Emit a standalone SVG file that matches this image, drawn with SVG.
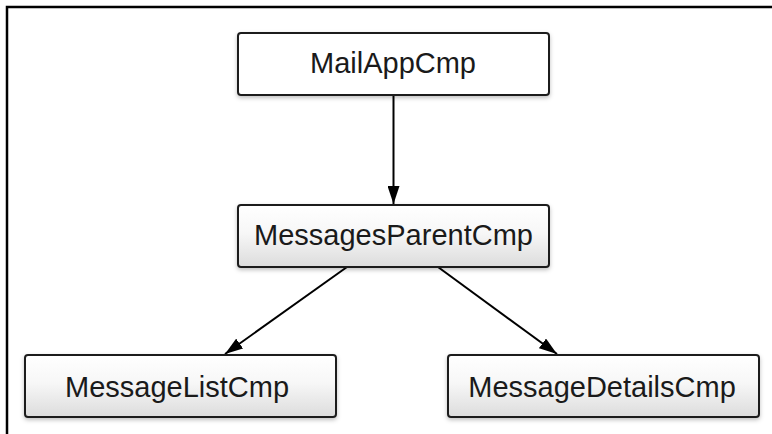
<svg xmlns="http://www.w3.org/2000/svg" width="772" height="434" viewBox="0 0 772 434">
  <defs>
    <linearGradient id="grad" x1="0" y1="0" x2="0" y2="1">
      <stop offset="0" stop-color="#ffffff"/>
      <stop offset="0.45" stop-color="#f7f7f7"/>
      <stop offset="1" stop-color="#dcdcdc"/>
    </linearGradient>
    <filter id="shadow" x="-10%" y="-20%" width="120%" height="150%">
      <feDropShadow dx="0" dy="2" stdDeviation="2" flood-color="#000" flood-opacity="0.25"/>
    </filter>
    <marker id="arrow" viewBox="0 0 18 12" refX="18" refY="6" markerWidth="18" markerHeight="12" markerUnits="userSpaceOnUse" orient="auto">
      <path d="M0,0 L18,6 L0,12 Z" fill="#000"/>
    </marker>
    <style>
      .box { stroke: #1e1e1e; stroke-width: 2; filter: url(#shadow); }
      .plain { fill: #ffffff; }
      .grad { fill: url(#grad); }
      .label { font-family: "Liberation Sans", Arial, sans-serif; font-size: 29px; fill: #1a1a1a; text-anchor: middle; }
      .edge { stroke: #000; stroke-width: 2; fill: none; marker-end: url(#arrow); }
    </style>
  </defs>
  <rect x="0" y="0" width="772" height="434" fill="#ffffff"/>
  <path d="M7,434 L7,7 L772,7" fill="none" stroke="#000" stroke-width="2.5"/>

  <g id="connectors">
    <line class="edge" x1="393.5" y1="95" x2="393.5" y2="204"/>
    <line class="edge" x1="347" y1="267" x2="225" y2="354"/>
    <line class="edge" x1="438" y1="267" x2="557" y2="354"/>
  </g>

  <g id="MailAppCmp">
    <rect class="box plain" x="238" y="33" width="311" height="62" rx="3"/>
    <text class="label" x="393" y="73">MailAppCmp</text>
  </g>
  <g id="MessagesParentCmp">
    <rect class="box grad" x="238" y="205" width="311" height="62" rx="3"/>
    <text class="label" x="393.5" y="245">MessagesParentCmp</text>
  </g>
  <g id="MessageListCmp">
    <rect class="box grad" x="25" y="355" width="311" height="62" rx="3"/>
    <text class="label" x="177" y="397">MessageListCmp</text>
  </g>
  <g id="MessageDetailsCmp">
    <rect class="box grad" x="448" y="355" width="311" height="62" rx="3"/>
    <text class="label" x="602" y="397">MessageDetailsCmp</text>
  </g>
</svg>
